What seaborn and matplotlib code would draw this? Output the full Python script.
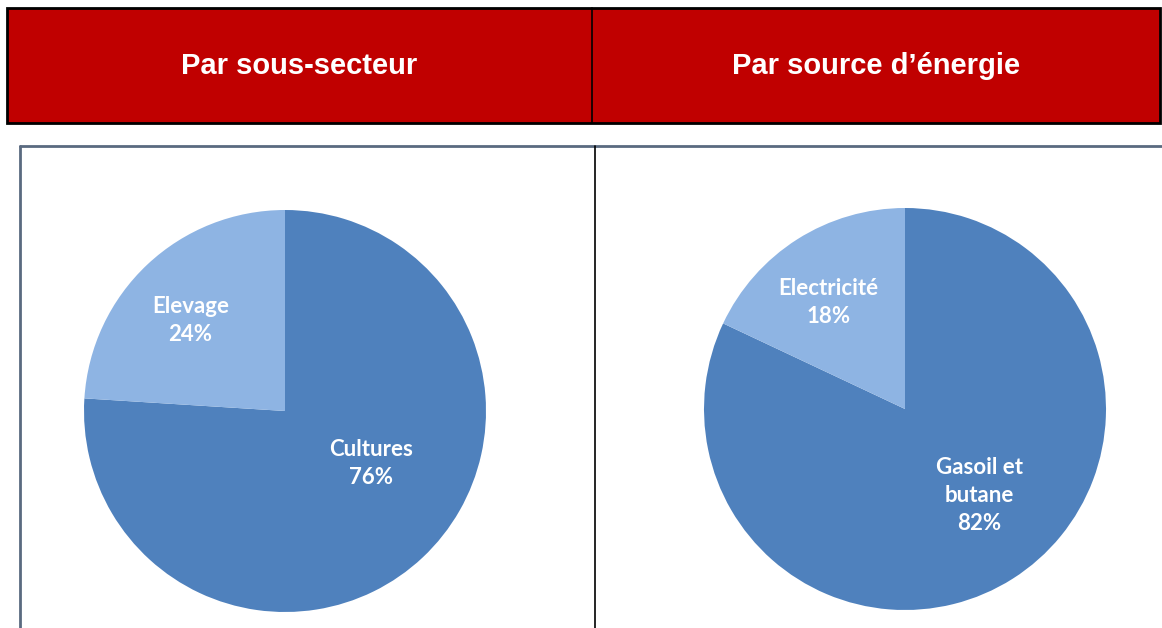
import numpy as np
import matplotlib
matplotlib.use("Agg")
import matplotlib.pyplot as plt
import seaborn as sns
from matplotlib.patches import Rectangle
from matplotlib.lines import Line2D

sns.set_style("white")
plt.rcParams['font.family'] = ['Liberation Sans', 'DejaVu Sans']

# data
headers = ["Par sous-secteur", "Par source d\u2019énergie"]
sub_labels = ["Cultures", "Elevage"]
sub_values = [76, 24]
src_labels = ["Gasoil et\nbutane", "Electricité"]
src_values = [82, 18]

dark_blue = "#4F81BD"
light_blue = "#8EB4E3"
red = "#C00000"

W, H = 1162, 628
fig = plt.figure(figsize=(W / 100, H / 100), dpi=100)

def fx(x):
    return x / W

def fy(y):
    return 1 - y / H

# red header table
fig.patches.append(Rectangle((fx(7), fy(123)), fx(1160 - 7), (123 - 8) / H,
                             transform=fig.transFigure, facecolor=red,
                             edgecolor="black", linewidth=2))
fig.lines.append(Line2D([fx(592), fx(592)], [fy(8), fy(123)],
                        transform=fig.transFigure, color="black", lw=1.2))
for txt, cx in zip(headers, [299.5, 876]):
    fig.text(fx(cx), fy(66), txt, ha="center", va="center", color="white",
             fontsize=21, fontweight="bold")

# chart frames
fig.lines.append(Line2D([fx(20), fx(1162)], [fy(146), fy(146)],
                        transform=fig.transFigure, color="#5A6A80", lw=2))
fig.lines.append(Line2D([fx(20), fx(20)], [fy(146), fy(628)],
                        transform=fig.transFigure, color="#5A6A80", lw=2))
fig.lines.append(Line2D([fx(595), fx(595)], [fy(146), fy(628)],
                        transform=fig.transFigure, color="black", lw=1.2))

def draw_pie(cx, cy, r, values, labels, label_pos):
    ax = fig.add_axes([fx(cx - r), fy(cy + r), 2 * r / W, 2 * r / H])
    wedges, _ = ax.pie(values, colors=[dark_blue, light_blue], startangle=90,
                       counterclock=False, radius=1,
                       wedgeprops=dict(linewidth=0))
    ax.set_xlim(-1, 1)
    ax.set_ylim(-1, 1)
    ax.set_aspect("equal")
    ax.axis("off")
    for lab, v, (x, y) in zip(labels, values, label_pos):
        ax.text(x, y, f"{lab}\n{v}%", ha="center", va="center",
                color="white", fontsize=16, fontweight="bold",
                linespacing=1.42, family=['Lato', 'DejaVu Sans'])
    return ax

draw_pie(285, 411, 201, sub_values, sub_labels, [(0.43, -0.26), (-0.47, 0.45)])
draw_pie(905, 409, 201, src_values, src_labels, [(0.37, -0.43), (-0.38, 0.53)])

fig.savefig("out.png", dpi=100)
